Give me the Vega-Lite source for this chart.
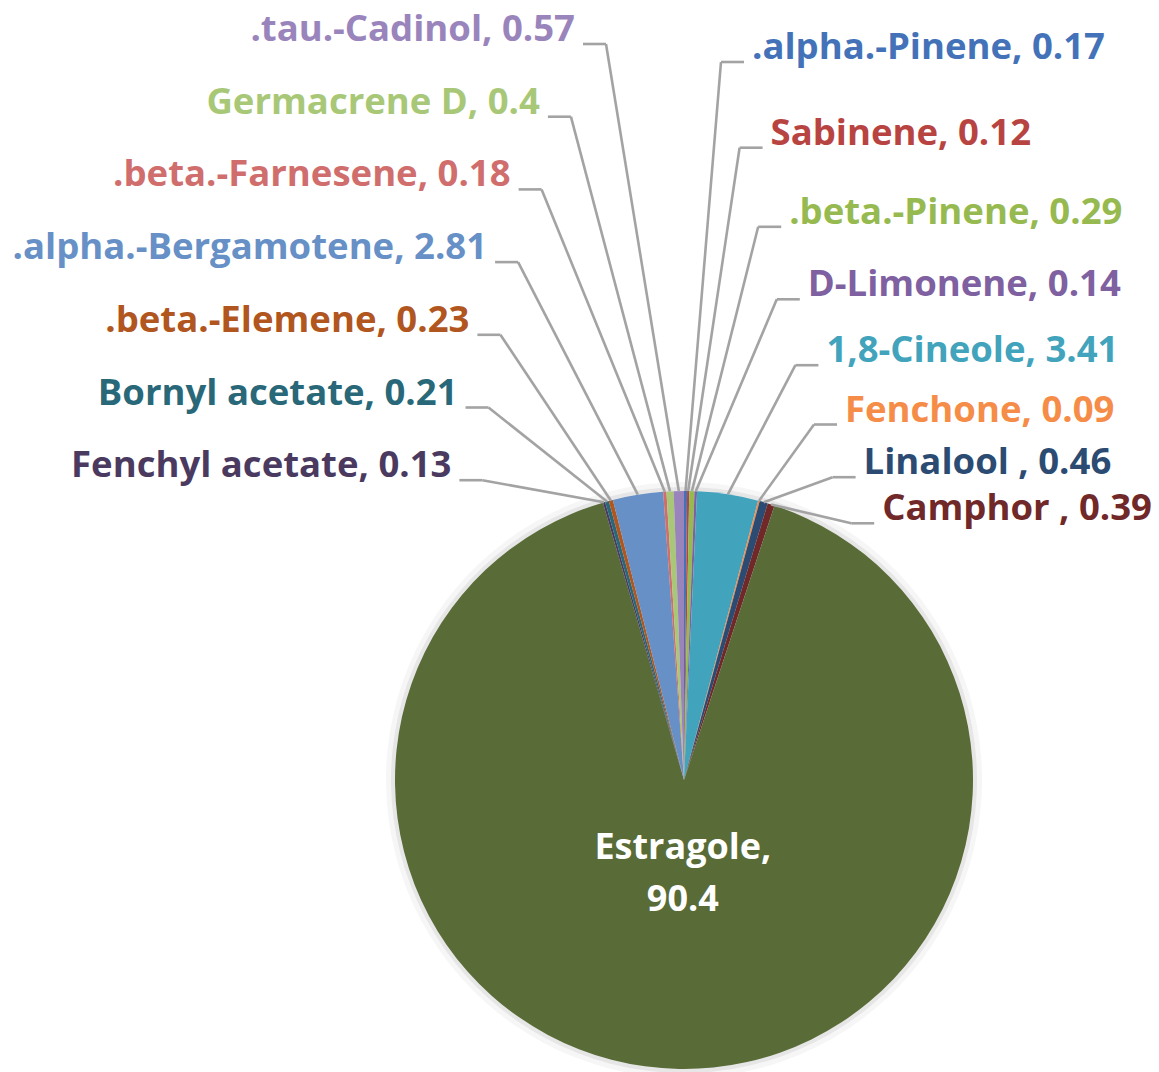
{
  "$schema": "https://vega.github.io/schema/vega-lite/v6.json",
  "width": 950,
  "height": 584,
  "padding": {"left": 209, "top": 488, "right": 0, "bottom": 0},
  "autosize": {"type": "none"},
  "background": "white",
  "config": {"view": {"stroke": null}},
  "data": {
    "values": [
      {"name": ".alpha.-Pinene", "value": 0.17},
      {"name": "Sabinene", "value": 0.12},
      {"name": ".beta.-Pinene", "value": 0.29},
      {"name": "D-Limonene", "value": 0.14},
      {"name": "1,8-Cineole", "value": 3.41},
      {"name": "Fenchone", "value": 0.09},
      {"name": "Linalool ", "value": 0.46},
      {"name": "Camphor ", "value": 0.39},
      {"name": "Estragole", "value": 90.4},
      {"name": "Fenchyl acetate", "value": 0.13},
      {"name": "Bornyl acetate", "value": 0.21},
      {"name": ".beta.-Elemene", "value": 0.23},
      {"name": ".alpha.-Bergamotene", "value": 2.81},
      {"name": ".beta.-Farnesene", "value": 0.18},
      {"name": "Germacrene D", "value": 0.4},
      {"name": ".tau.-Cadinol", "value": 0.57}
    ]
  },
  "transform": [
    {"window": [{"op": "row_number", "as": "rn"}]},
    {"calculate": "datum.rn - 1", "as": "i"},
    {"joinaggregate": [{"op": "sum", "field": "value", "as": "total"}]},
    {"window": [{"op": "sum", "field": "value", "as": "cum"}], "sort": [{"field": "i"}], "frame": [null, 0]},
    {"calculate": "2*PI*(datum.cum - datum.value/2)/datum.total", "as": "ang"},
    {"calculate": "289*sin(datum.ang)", "as": "ex"},
    {"calculate": "289*cos(datum.ang)", "as": "ey"},
    {"calculate": "datum.i < 8 ? 1 : (datum.i > 8 ? -1 : 0)", "as": "side"},
    {"calculate": "15 - datum.i", "as": "j"},
    {"calculate": "datum.side == 1 ? 732 - 89*datum.i + 3.3*datum.i*datum.i : (datum.side == -1 ? 750 - 72.7*datum.j : 0.235*datum.ey)", "as": "ly"},
    {"calculate": "datum.side == 1 ? 68 + 18.6*datum.i : (datum.side == -1 ? -109 - 38*datum.j + 2.9*datum.j*datum.j : 0.235*datum.ex)", "as": "lx"},
    {"calculate": "datum.ly - 14", "as": "hy"},
    {"calculate": "datum.lx - datum.side*8", "as": "hx1"},
    {"calculate": "datum.lx - datum.side*31", "as": "hx2"},
    {"calculate": "datum.side == 0 ? [datum.name + ',', '' + datum.value] : datum.name + ', ' + datum.value", "as": "label"}
  ],
  "layer": [
    {
      "mark": {"type": "arc", "outerRadius": 298, "color": "#F6F6F6"},
      "encoding": {
        "theta": {"field": "value", "type": "quantitative", "stack": true},
        "order": {"field": "i", "type": "quantitative"}
      }
    },
    {
      "mark": {"type": "arc", "outerRadius": 293, "color": "#E6E6E6"},
      "encoding": {
        "theta": {"field": "value", "type": "quantitative", "stack": true},
        "order": {"field": "i", "type": "quantitative"}
      }
    },
    {
      "mark": {"type": "arc", "outerRadius": 289},
      "encoding": {
        "theta": {"field": "value", "type": "quantitative", "stack": true},
        "order": {"field": "i", "type": "quantitative"},
        "color": {
          "field": "name",
          "type": "nominal",
          "legend": null,
          "scale": {
            "domain": [".alpha.-Pinene", "Sabinene", ".beta.-Pinene", "D-Limonene", "1,8-Cineole", "Fenchone", "Linalool ", "Camphor ", "Estragole", "Fenchyl acetate", "Bornyl acetate", ".beta.-Elemene", ".alpha.-Bergamotene", ".beta.-Farnesene", "Germacrene D", ".tau.-Cadinol"],
            "range": ["#4472B8", "#B84442", "#96BA50", "#7F60A0", "#42A3BC", "#F58C48", "#2B4B72", "#702828", "#596B36", "#4A3A60", "#286878", "#B0561E", "#6690C6", "#CF6E6C", "#A8C878", "#9A84BC"]
          }
        }
      }
    },
    {
      "transform": [{"filter": "datum.side != 0"}],
      "mark": {"type": "rule", "color": "#A3A3A3", "strokeWidth": 2.6},
      "encoding": {
        "x": {"field": "hx1", "type": "quantitative", "scale": {"domain": [-475, 475], "nice": false, "zero": false}, "axis": null},
        "x2": {"field": "hx2"},
        "y": {"field": "hy", "type": "quantitative", "scale": {"domain": [-292, 292], "nice": false, "zero": false}, "axis": null},
        "y2": {"field": "hy"}
      }
    },
    {
      "transform": [{"filter": "datum.side != 0"}],
      "mark": {"type": "rule", "color": "#A3A3A3", "strokeWidth": 2.6},
      "encoding": {
        "x": {"field": "hx2", "type": "quantitative", "scale": {"domain": [-475, 475], "nice": false, "zero": false}, "axis": null},
        "x2": {"field": "ex"},
        "y": {"field": "hy", "type": "quantitative", "scale": {"domain": [-292, 292], "nice": false, "zero": false}, "axis": null},
        "y2": {"field": "ey"}
      }
    },
    {
      "transform": [{"filter": "datum.side == 1"}],
      "mark": {"type": "text", "align": "left", "baseline": "middle", "font": "Open Sans", "fontWeight": "bold", "fontSize": 36.5},
      "encoding": {
        "x": {"field": "lx", "type": "quantitative", "scale": {"domain": [-475, 475], "nice": false, "zero": false}, "axis": null},
        "y": {"field": "ly", "type": "quantitative", "scale": {"domain": [-292, 292], "nice": false, "zero": false}, "axis": null},
        "text": {"field": "label", "type": "nominal"},
        "color": {"field": "name", "type": "nominal", "legend": null}
      }
    },
    {
      "transform": [{"filter": "datum.side == -1"}],
      "mark": {"type": "text", "align": "right", "baseline": "middle", "font": "Open Sans", "fontWeight": "bold", "fontSize": 36.5},
      "encoding": {
        "x": {"field": "lx", "type": "quantitative", "scale": {"domain": [-475, 475], "nice": false, "zero": false}, "axis": null},
        "y": {"field": "ly", "type": "quantitative", "scale": {"domain": [-292, 292], "nice": false, "zero": false}, "axis": null},
        "text": {"field": "label", "type": "nominal"},
        "color": {"field": "name", "type": "nominal", "legend": null}
      }
    },
    {
      "transform": [{"filter": "datum.side == 0"}],
      "mark": {"type": "text", "align": "center", "baseline": "middle", "font": "Open Sans", "fontWeight": "bold", "fontSize": 36, "lineHeight": 52, "color": "white"},
      "encoding": {
        "x": {"field": "lx", "type": "quantitative", "scale": {"domain": [-475, 475], "nice": false, "zero": false}, "axis": null},
        "y": {"field": "ly", "type": "quantitative", "scale": {"domain": [-292, 292], "nice": false, "zero": false}, "axis": null},
        "text": {"field": "label", "type": "nominal"}
      }
    }
  ]
}
